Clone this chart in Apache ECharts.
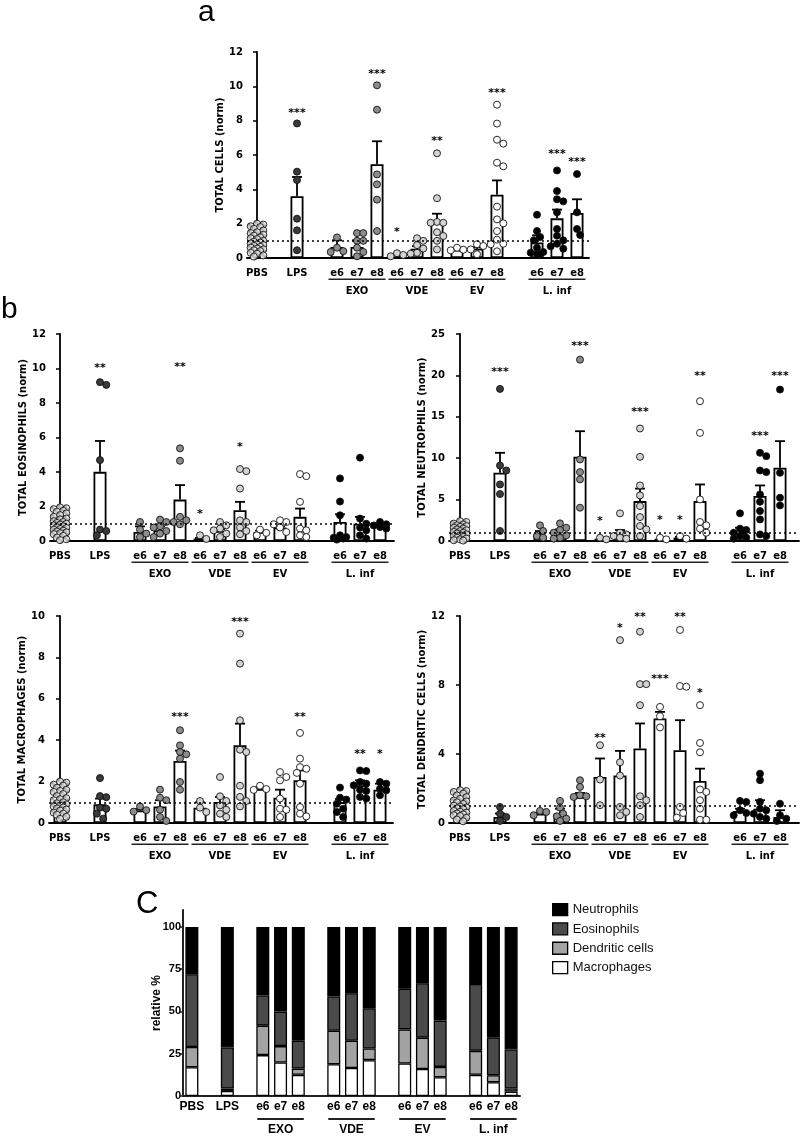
<!DOCTYPE html>
<html><head><meta charset="utf-8">
<script src="https://cdn.jsdelivr.net/npm/echarts@6/dist/echarts.min.js"></script>
<style>html,body{margin:0;padding:0;background:#fff}#c{width:800px;height:1136px}</style>
</head><body><div id="c"></div>
<script>
// ---------------- DATA ----------------
const categories = ['PBS','LPS','e6','e7','e8','e6','e7','e8','e6','e7','e8','e6','e7','e8'];
const groupNames = ['EXO','VDE','EV','L. inf'];

// a: total cells
const cellsMean = [1.0, 3.6, 0.64, 0.64, 5.46, 0.16, 0.54, 2.19, 0.49, 0.54, 3.69, 0.91, 2.31, 2.62];
const cellsSem  = [0.08, 1.12, 0.39, 0.39, 1.34, 0.04, 0.15, 0.39, 0.05, 0.08, 0.83, 0.41, 0.51, 0.8];
const cellsSig  = ['', '***', '', '', '***', '*', '', '**', '', '', '***', '', '***', '***'];
const cellsSigY = [null, 8.62, null, null, 10.87, 1.71, null, 6.99, null, null, 9.79, null, 6.23, 5.73];
const cellsPoints = [
  [2.0,1.95,1.85,1.8,1.7,1.6,1.5,1.45,1.35,1.3,1.2,1.15,1.1,1.0,0.95,0.9,0.85,0.8,0.75,0.7,0.65,0.6,0.55,0.5,0.45,0.4,0.3,0.25,0.15,0.08],
  [7.84,5.03,4.54,2.29,1.61,0.45],
  [1.2,0.6,0.4,0.35],
  [1.45,1.45,1.0,1.0,0.6,0.35,0.1],
  [10.06,8.64,4.87,4.29,3.4,1.57],
  [0.28,0.18,0.1],
  [1.15,1.0,0.75,0.55,0.3,0.25],
  [6.1,3.48,2.1,2.05,2.05,1.5,1.28,1.0,0.5],
  [0.6,0.48,0.45],
  [0.8,0.7,0.5,0.22],
  [8.93,7.83,6.89,6.66,5.55,5.34,2.99,2.25,2.02,1.57,1.07,0.83,0.8,0.39],
  [2.52,1.57,1.22,1.03,0.6,0.35,0.31,0.25,0.21],
  [5.1,3.9,3.42,3.3,2.66,1.69,1.3,1.03,0.83,0.68,0.54],
  [4.89,2.66,1.69,1.34]
];

// b: eosinophils
const eosMean = [1.0, 4.01, 0.52, 0.62, 2.4, 0.14, 0.58, 1.78, 0.52, 0.78, 1.4, 1.1, 1.0, 0.91];
const eosSem  = [0.1, 1.79, 0.33, 0.23, 0.84, 0.04, 0.12, 0.49, 0.08, 0.07, 0.48, 0.45, 0.4, 0.07];
const eosSig  = ['', '**', '', '', '**', '*', '', '*', '', '', '', '', '', ''];
const eosSigY = [null, 10.2, null, null, 10.28, 1.74, null, 5.62, null, null, null, null, null, null];
const eosPoints = [
  [1.95,1.9,1.85,1.75,1.7,1.6,1.5,1.4,1.3,1.25,1.15,1.1,1.05,1.0,0.95,0.9,0.85,0.8,0.75,0.7,0.65,0.6,0.55,0.5,0.45,0.4,0.3,0.2,0.1,0.05],
  [9.21,9.05,4.69,0.66,0.58,0.33],
  [1.1,0.66,0.43,0.23],
  [1.24,1.1,0.85,0.78,0.58,0.43,0.23],
  [5.37,4.65,1.4,1.2,1.1,0.97],
  [0.33,0.12],
  [1.1,0.91,0.72,0.62,0.43,0.23],
  [4.17,4.05,3.04,1.2,1.1,0.78,0.58,0.39],
  [0.66,0.47,0.33],
  [1.2,1.1,0.97,0.78,0.52],
  [3.88,3.76,2.27,0.72,0.62,0.33,0.23],
  [3.63,2.29,1.49,0.33,0.23,0.19,0.14,0.08],
  [4.83,1.3,1.0,0.78,0.62,0.33,0.14],
  [1.1,0.97,0.9,0.81,0.72]
];

// b: neutrophils
const neuMean = [1.0, 8.24, 0.6, 0.8, 10.17, 0.12, 0.8, 4.82, 0.12, 0.4, 4.82, 1.0, 5.43, 8.84];
const neuSem  = [0.15, 2.41, 0.6, 0.6, 3.09, 0.05, 0.53, 1.5, 0.05, 0.1, 2.01, 0.6, 1.28, 3.22];
const neuSig  = ['', '***', '', '', '***', '*', '', '***', '*', '*', '**', '', '***', '***'];
const neuSigY = [null, 20.7, null, null, 23.9, 2.8, null, 15.88, 2.9, 2.9, 20.3, null, 12.98, 20.3];
const neuPoints = [
  [2.4,2.3,2.1,2.0,1.9,1.8,1.7,1.6,1.5,1.4,1.3,1.2,1.1,1.0,0.9,0.8,0.7,0.6,0.5,0.4,0.3,0.2,0.1,0.05],
  [18.37,9.12,8.52,6.83,5.67,1.21],
  [1.89,1.21,0.6,0.4],
  [2.13,1.6,1.33,1.0,0.68,0.4,0.28],
  [21.9,9.85,8.32,7.44,4.02],
  [0.4,0.2],
  [3.34,1.0,0.8,0.6,0.4,0.28],
  [13.59,10.17,6.71,5.51,4.22,2.89,1.81,1.41,0.6],
  [0.4,0.2],
  [0.6,0.28],
  [16.88,13.06,5.02,2.29,1.89,1.49,1.0],
  [3.34,1.49,1.33,1.0,1.0,0.6,0.4,0.28],
  [10.65,10.25,8.52,8.32,5.63,4.74,3.62,2.61,0.8,0.6],
  [18.29,8.24,5.23,4.3]
];

// b: macrophages
const macMean = [1.0, 0.9, 0.61, 0.8, 3.0, 0.74, 1.01, 3.75, 1.64, 1.22, 2.06, 1.01, 1.82, 1.61];
const macSem  = [0.1, 0.28, 0.06, 0.3, 0.5, 0.26, 0.25, 1.05, 0.08, 0.39, 0.48, 0.15, 0.24, 0.29];
const macSig  = ['', '', '', '', '***', '', '', '***', '', '', '**', '', '**', '*'];
const macSigY = [null, null, null, null, 5.28, null, null, 9.87, null, null, 5.28, null, 3.48, 3.48];
const macPoints = [
  [2.0,1.95,1.85,1.8,1.7,1.6,1.55,1.5,1.4,1.3,1.2,1.15,1.1,1.0,0.95,0.9,0.85,0.8,0.75,0.7,0.65,0.6,0.5,0.45,0.4,0.3,0.2],
  [2.17,1.3,1.25,0.74,0.69,0.45,0.21],
  [0.8,0.62,0.55],
  [1.61,1.22,1.1,0.64,0.29,0.1],
  [4.48,3.75,3.43,3.32,3.11,1.98,1.61],
  [1.06,0.74,0.53],
  [2.22,1.29,1.06,0.85,0.64,0.45,0.29],
  [9.15,7.7,4.96,3.54,3.43,1.8,1.26,1.06,0.8],
  [1.8,1.64,1.6],
  [2.46,2.22,2.06,1.18,0.69,0.64,0.29],
  [4.35,3.11,2.7,2.62,2.42,1.9,0.77,0.45,0.32],
  [1.71,1.22,1.13,0.93,0.69,0.53,0.29],
  [2.54,2.51,1.98,1.9,1.82,1.61,1.55,1.26,1.18],
  [1.98,1.9,1.66,1.58,1.34]
];

// b: dendritic cells
const dcMean = [1.0, 0.35, 0.54, 0.54, 1.51, 2.67, 2.75, 4.32, 6.06, 4.22, 2.44, 0.7, 0.83, 0.35];
const dcSem  = [0.1, 0.2, 0.05, 0.29, 0.23, 1.07, 1.43, 1.45, 0.38, 1.74, 0.71, 0.13, 0.49, 0.39];
const dcSig  = ['', '', '', '', '', '**', '*', '**', '***', '**', '*', '', '', ''];
const dcSigY = [null, null, null, null, null, 5.09, 11.48, 12.12, 8.52, 12.12, 7.7, null, null, null];
const dcPoints = [
  [1.9,1.85,1.8,1.7,1.6,1.5,1.4,1.3,1.25,1.2,1.1,1.0,0.95,0.9,0.85,0.8,0.7,0.65,0.6,0.55,0.5,0.45,0.4,0.3,0.2,0.1],
  [0.93,0.54,0.35,0.12],
  [0.7,0.64,0.45],
  [1.28,0.89,0.54,0.39,0.25,0.12],
  [2.48,2.09,1.61,1.55,1.51],
  [4.51,2.52,1.03],
  [10.6,3.52,2.75,0.93,0.64,0.45],
  [11.09,8.05,8.05,6.83,1.55,1.32,1.03,0.35],
  [6.73,6.19,5.54],
  [11.19,7.94,7.9,0.93,0.58,0.31],
  [6.83,4.64,4.1,1.94,1.8,1.32,0.83,0.19,0.19],
  [1.28,1.22,0.74,0.58,0.45],
  [2.86,2.48,1.22,0.83,0.74,0.54,0.35,0.25],
  [1.12,0.45,0.25,0.12]
];

// C: relative %
const cellTypes = ['Neutrophils','Eosinophils','Dendritic cells','Macrophages'];
const relMac = [17, 3, 24.2, 19.8, 12.5, 18.8, 16.6, 21.2, 19.2, 16, 11.1, 12.5, 8.1, 2.6];
const relDC  = [12, 1.4, 17.4, 9.7, 3.7, 19.8, 16.1, 6.9, 20.2, 18.5, 6.1, 14.2, 4.2, 1.8];
const relEos = [43, 24.3, 17.8, 20.4, 16.5, 20.2, 28.1, 23.8, 24, 32.2, 27.4, 39.6, 22.4, 23.1];
const relNeu = [28, 71.3, 40.6, 50.1, 67.3, 41.2, 39.2, 48.1, 36.6, 33.3, 55.4, 33.7, 65.3, 72.5];
const relTicks = [0, 25, 50, 75, 100];

// ---------------- LAYOUT ----------------
const FONT = "'DejaVu Sans', sans-serif";
const NARROW = "'Liberation Sans Narrow','Liberation Sans',sans-serif";
const slotAB = [0,2,4,5,6,7,8,9,10,11,12,14,15,16];
const slotC  = [0,2,4,5,6,8,9,10,12,13,14,16,17,18];
const groupIdx = [[2,4],[5,7],[8,10],[11,13]];

const pat = document.createElement('canvas'); pat.width = 3; pat.height = 3;
(function(){ const c = pat.getContext('2d'); c.fillStyle = '#fff'; c.fillRect(0,0,3,3);
  c.fillStyle = '#8a8a8a'; c.fillRect(0,0,1,1); c.fillRect(1,1,1,1); c.fillRect(2,2,1,1); })();
function ptColor(k){
  if (k === 0) return {image: pat, repeat: 'repeat'};
  if (k === 1) return '#3a3a3a';
  if (k <= 4) return '#8c8c8c';
  if (k <= 7) return '#d3d3d3';
  if (k <= 10) return '#ffffff';
  return '#000000';
}

const panels = [
  {title:'TOTAL CELLS (norm)', grid:{left:247,top:52,width:342,height:206}, xr:[-0.5,16.6], ymax:12, step:2, gap:21,
   mean:cellsMean, sem:cellsSem, pts:cellsPoints, sig:cellsSig, sigY:cellsSigY},
  {title:'TOTAL EOSINOPHILS (norm)', grid:{left:50,top:334,width:344,height:207}, xr:[-0.5,16.7], ymax:12, step:2, gap:18,
   mean:eosMean, sem:eosSem, pts:eosPoints, sig:eosSig, sigY:eosSigY},
  {title:'TOTAL NEUTROPHILS (norm)', grid:{left:449,top:334,width:350,height:207}, xr:[-0.55,16.95], ymax:25, step:5, gap:17,
   mean:neuMean, sem:neuSem, pts:neuPoints, sig:neuSig, sigY:neuSigY},
  {title:'TOTAL MACROPHAGES (norm)', grid:{left:49,top:616,width:344,height:207}, xr:[-0.55,16.65], ymax:10, step:2, gap:18,
   mean:macMean, sem:macSem, pts:macPoints, sig:macSig, sigY:macSigY},
  {title:'TOTAL DENDRITIC CELLS (norm)', grid:{left:449,top:616,width:350,height:207}, xr:[-0.55,16.95], ymax:12, step:4, gap:18,
   mean:dcMean, sem:dcSem, pts:dcPoints, sig:dcSig, sigY:dcSigY}
];

// simple beeswarm in pixel space, returns x offsets in slot units
function swarm(vals, pxY, pxSlot){
  const D = 7, s = D * 0.45, steps = [0, 1, -1, 2, -2];
  const order = vals.map((v,i)=>({v,i})).sort((a,b)=>b.v-a.v);
  const placed = [], out = new Array(vals.length);
  order.forEach(p => {
    const y = p.v * pxY; let best = 0, bestScore = -1;
    for (const k of steps){
      const x = k * s; let md = Infinity;
      placed.forEach(q => { const d = Math.hypot(q.x - x, q.y - y); if (d < md) md = d; });
      if (md >= D * 0.9){ best = x; bestScore = Infinity; break; }
      if (md > bestScore){ bestScore = md; best = x; }
    }
    placed.push({x: best, y});
    out[p.i] = best / pxSlot;
  });
  return out;
}

const grids = [], xAxes = [], yAxes = [], series = [];
panels.forEach((p, i) => {
  grids.push(Object.assign({}, p.grid));
  xAxes.push({type:'value', gridIndex:i, min:p.xr[0], max:p.xr[1],
    axisLine:{onZero:false, lineStyle:{color:'#000', width:1.8}}, axisTick:{show:false}, axisLabel:{show:false}, splitLine:{show:false}});
  yAxes.push({type:'value', gridIndex:i, min:0, max:p.ymax, interval:p.step,
    name:p.title, nameLocation:'middle', nameGap:p.gap,
    nameTextStyle:{color:'#000', fontWeight:'bold', fontSize:10, fontFamily:FONT},
    axisLine:{show:true, lineStyle:{color:'#000', width:1.8}},
    axisTick:{show:true, length:4, lineStyle:{color:'#000', width:1.5}},
    axisLabel:{color:'#000', fontWeight:'bold', fontSize:10, fontFamily:FONT, margin:4},
    splitLine:{show:false}});
  series.push({type:'bar', xAxisIndex:i, yAxisIndex:i, barWidth:13, silent:true, z:2,
    data: slotAB.map((s,k)=>[s, p.mean[k]]),
    itemStyle:{color:'#fff', borderColor:'#000', borderWidth:1.8},
    markLine:{silent:true, symbol:'none', label:{show:false}, animation:false,
      lineStyle:{color:'#000', type:[2,3], width:1.6}, data:[{yAxis:1}]}});
  series.push({type:'custom', xAxisIndex:i, yAxisIndex:i, z:3, silent:true,
    data: slotAB.map((s,k)=>[s, p.mean[k], p.mean[k] + p.sem[k]]),
    encode:{x:0, y:[1,2]},
    renderItem:(params, api) => {
      const a = api.coord([api.value(0), api.value(1)]);
      const b = api.coord([api.value(0), api.value(2)]);
      return {type:'group', children:[
        {type:'line', shape:{x1:a[0], y1:a[1], x2:b[0], y2:b[1]}, style:{stroke:'#000', lineWidth:1.8}},
        {type:'line', shape:{x1:b[0]-5, y1:b[1], x2:b[0]+5, y2:b[1]}, style:{stroke:'#000', lineWidth:1.8}}
      ]};
    }});
  const pxY = p.grid.height / p.ymax, pxSlot = p.grid.width / (p.xr[1] - p.xr[0]);
  const sdata = [];
  p.pts.forEach((vals, k) => {
    const offs = swarm(vals, pxY, pxSlot);
    vals.forEach((v, j) => sdata.push({value:[slotAB[k] + offs[j], v], itemStyle:{color: ptColor(k)}}));
  });
  series.push({type:'scatter', xAxisIndex:i, yAxisIndex:i, z:4, silent:true, symbol:'circle', symbolSize:7,
    data:sdata, itemStyle:{borderColor:'#111', borderWidth:0.9, opacity:1}});
  const starData = [], starText = [];
  p.sig.forEach((s,k) => { if (s){ starData.push([slotAB[k], p.sigY[k]]); starText.push(s); } });
  series.push({type:'custom', xAxisIndex:i, yAxisIndex:i, z:6, silent:true, data:starData, encode:{x:0, y:1},
    renderItem:(params, api) => {
      const c = api.coord([api.value(0), api.value(1)]);
      return {type:'text', x:c[0], y:c[1] + 3, style:{text:starText[params.dataIndex], fill:'#000',
        font:'bold 11px ' + FONT, align:'center', verticalAlign:'middle'}};
    }});
});

// panel C
const cLabels = new Array(19).fill('');
slotC.forEach((s,k) => { cLabels[s] = categories[k]; });
function cSeries(vals){ const d = new Array(19).fill(null); slotC.forEach((s,k)=>{ d[s] = vals[k]; }); return d; }
const ci = panels.length;
grids.push({left:183, top:910, width:337, height:186});
xAxes.push({type:'category', gridIndex:ci, data:cLabels,
  axisLine:{lineStyle:{color:'#222', width:2}}, axisTick:{show:false},
  axisLabel:{interval:0, color:'#000', fontWeight:'bold', fontSize:12, fontFamily:NARROW, margin:5}});
yAxes.push({type:'value', gridIndex:ci, min:0, max:110, interval:25,
  name:'relative %', nameLocation:'middle', nameGap:20, nameMoveOverlap:false,
  nameTextStyle:{color:'#000', fontWeight:'bold', fontSize:12, fontFamily:NARROW},
  axisLine:{show:true, lineStyle:{color:'#222', width:2}},
  axisTick:{show:true, length:3, customValues:relTicks, lineStyle:{color:'#222', width:1.5}},
  axisLabel:{color:'#000', fontWeight:'bold', fontSize:11, fontFamily:NARROW, margin:2, customValues:relTicks,
    formatter: v => (v % 25 === 0 ? String(v) : '')},
  splitLine:{show:false}});
const cColors = {'Macrophages':'#ffffff', 'Dendritic cells':'#a3a3a3', 'Eosinophils':'#4a4a4a', 'Neutrophils':'#000000'};
[['Macrophages', relMac], ['Dendritic cells', relDC], ['Eosinophils', relEos], ['Neutrophils', relNeu]].forEach(([n, vals]) => {
  series.push({type:'bar', name:n, stack:'rel', xAxisIndex:ci, yAxisIndex:ci, barWidth:13, silent:true,
    data:cSeries(vals), itemStyle:{color:cColors[n], borderColor:'#000', borderWidth:1.3}});
});

const chart = echarts.init(document.getElementById('c'), null, {renderer:'canvas'});
chart.setOption({
  animation:false, backgroundColor:'#fff',
  grid:grids, xAxis:xAxes, yAxis:yAxes, series:series,
  legend:{data:cellTypes, orient:'vertical', left:547, top:898, icon:'rect', itemWidth:15, itemHeight:12, itemGap:6,
    selectedMode:false, itemStyle:{borderColor:'#000', borderWidth:1.3},
    textStyle:{color:'#111', fontSize:13, fontFamily:NARROW}}
});

// annotations: category labels, group underlines, group names, panel letters
const g = [];
function txt(x, y, text, font, align){
  g.push({type:'text', silent:true, x, y, style:{text, font, fill:'#000', align: align || 'center', verticalAlign:'middle'}});
}
function bar(x, y, w, h){ g.push({type:'rect', silent:true, shape:{x, y, width:w, height:h}, style:{fill:'#222'}}); }
panels.forEach((p, i) => {
  const base = p.grid.top + p.grid.height;
  const px = s => chart.convertToPixel({gridIndex:i}, [s, 0])[0];
  slotAB.forEach((s,k) => txt(px(s), base + 15, categories[k], 'bold 10px ' + FONT));
  groupIdx.forEach(([a,b], gi) => {
    const x1 = px(slotAB[a]) - 8.5, x2 = px(slotAB[b]) + 8.5;
    bar(x1, base + 20.5, x2 - x1, 1.6);
    txt((x1 + x2) / 2, base + 33.5, groupNames[gi], 'bold 10px ' + FONT);
  });
});
(function(){
  const base = 910 + 186;
  const px = s => chart.convertToPixel({gridIndex:ci}, [s, 0])[0];
  groupIdx.forEach(([a,b], gi) => {
    const x1 = px(slotC[a]) - 5.5, x2 = px(slotC[b]) + 5.5;
    bar(x1, base + 22, x2 - x1, 2);
    txt((x1 + x2) / 2, base + 34, groupNames[gi], 'bold 12px ' + NARROW);
  });
})();
txt(198, 12.5, 'a', '30px ' + "'Liberation Sans', sans-serif", 'left');
txt(1, 309.5, 'b', '30px ' + "'Liberation Sans', sans-serif", 'left');
txt(136, 904.5, 'C', '31px ' + NARROW, 'left');
chart.setOption({graphic:{elements:g}});
</script></body></html>
